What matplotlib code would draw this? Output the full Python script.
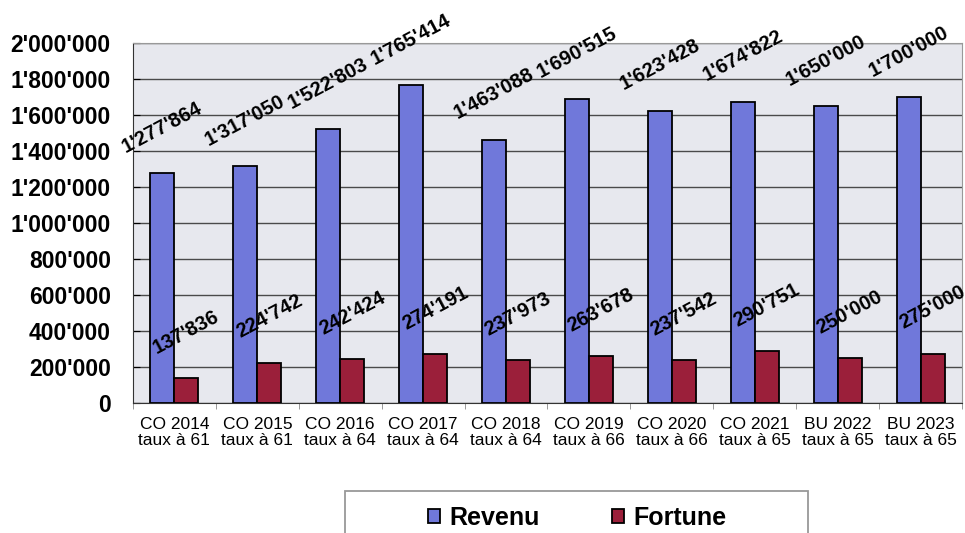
import numpy as np
import matplotlib.pyplot as plt
from matplotlib.ticker import FuncFormatter
from matplotlib.patches import Rectangle

annees = ["CO 2014", "CO 2015", "CO 2016", "CO 2017", "CO 2018",
          "CO 2019", "CO 2020", "CO 2021", "BU 2022", "BU 2023"]
taux = ["taux à 61", "taux à 61", "taux à 64", "taux à 64", "taux à 64",
        "taux à 66", "taux à 66", "taux à 65", "taux à 65", "taux à 65"]
revenu = [1277864, 1317050, 1522803, 1765414, 1463088,
          1690515, 1623428, 1674822, 1650000, 1700000]
fortune = [137836, 224742, 242424, 274191, 237973,
           263678, 237542, 290751, 250000, 275000]

def fmt(v, pos=None):
    return "{:,}".format(int(v)).replace(",", "'")

plt.rcParams['font.family'] = ['Liberation Sans', 'DejaVu Sans']

fig = plt.figure(figsize=(9.65, 5.33), dpi=100)
ax = fig.add_axes([0.1378, 0.2439, 0.8591, 0.6754])
ax.set_facecolor("#e7e8ee")

x = np.arange(len(annees))
w = 0.29
b1 = ax.bar(x - w/2, revenu, w, color="#7078da", edgecolor="black", linewidth=1.3, label="Revenu", zorder=3)
b2 = ax.bar(x + w/2, fortune, w, color="#9b1f3a", edgecolor="black", linewidth=1.3, label="Fortune", zorder=3)

# etiquettes de valeurs, inclinees
for xi, v in zip(x - w/2, revenu):
    ax.annotate(fmt(v), (xi, v), xytext=(0, 33), textcoords="offset points",
                ha="center", va="center", rotation=28, fontsize=14.5, fontweight="bold",
                annotation_clip=False, zorder=5)
for xi, v in zip(x + w/2, fortune):
    ax.annotate(fmt(v), (xi, v), xytext=(0, 33), textcoords="offset points",
                ha="center", va="center", rotation=28, fontsize=14.5, fontweight="bold",
                annotation_clip=False, zorder=5)

ax.set_ylim(0, 2000000)
ax.set_xlim(-0.5, len(annees) - 0.5)
ax.set_yticks(np.arange(0, 2000001, 200000))
ax.yaxis.set_major_formatter(FuncFormatter(fmt))
ax.tick_params(axis="y", labelsize=16.5, length=5, direction="in", pad=16)
for t in ax.get_yticklabels():
    t.set_fontweight("bold")
ax.yaxis.grid(True, color="#4a4a4a", linewidth=1.0, zorder=1)

ax.set_xticks(x)
ax.set_xticklabels([a + "\n" + t for a, t in zip(annees, taux)], fontsize=12.5, linespacing=1.1)
ax.tick_params(axis="x", length=0, pad=10)
ax.set_xticks(np.arange(-0.5, len(annees), 1), minor=True)
ax.tick_params(axis="x", which="minor", length=4, direction="out", color="#888888")

for s in ["top", "right"]:
    ax.spines[s].set_color("#999999")
ax.spines["left"].set_color("#333333")
ax.spines["bottom"].set_color("#333333")

# cadre de la legende (coupe en bas)
W, H = 965, 533
fig.patches.append(Rectangle((345 / W, -0.05), (808 - 345) / W, 0.05 + (533 - 491) / H,
                             transform=fig.transFigure, facecolor="white",
                             edgecolor="#999999", linewidth=1.3))
leg = fig.legend(handles=[b1, b2], loc="center", bbox_to_anchor=(0.598, 1 - 518 / H),
                 ncol=2, frameon=False, prop={"weight": "bold", "size": 18},
                 handlelength=0.5, handleheight=0.5, columnspacing=2.9, handletextpad=0.35)

fig.savefig("out.png", dpi=100)
